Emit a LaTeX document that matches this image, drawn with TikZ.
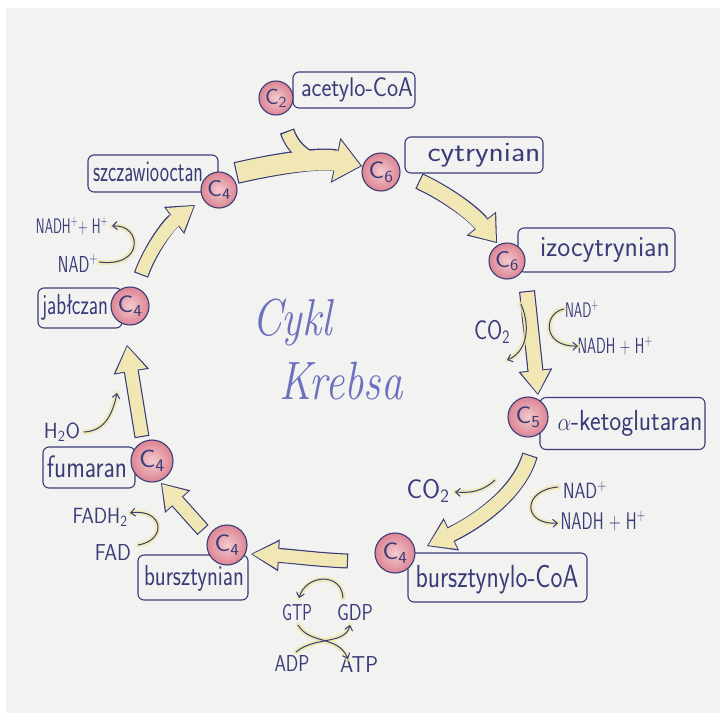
\documentclass[tikz,border=0pt]{standalone}
\usetikzlibrary{arrows.meta}
\definecolor{ink}{HTML}{3A3C78}
\definecolor{ylw}{HTML}{F0E7B4}
\definecolor{paper}{HTML}{F2F2F1}
\definecolor{pinkin}{HTML}{F4CACE}
\definecolor{pinkout}{HTML}{DC8593}
\definecolor{blueink}{HTML}{6C70BE}
\definecolor{hl}{HTML}{EFE8A6}
% #1 font size, #2 target width, #3 text: natural height kept, width squeezed/stretched
\newcommand\lab[3]{\resizebox{#2}{\height}{\fontsize{#1}{#1}\selectfont #3}}
\newcommand\bout[4]{%
  \draw[line width=#1pt, draw=ink, -{Triangle[length=#2pt,width=#3pt,line width=0pt]}] #4;}
\newcommand\bin[4]{%
  \pgfmathsetmacro\bInner{#1-2.6}%
  \pgfmathsetmacro\bLi{#2-2.6}%
  \pgfmathsetmacro\bWi{#3-4.5}%
  \pgfmathsetmacro\bSh{0.6*#2}%
  \draw[line width=\bInner pt, draw=ylw, shorten <=1.3pt, shorten >=\bSh pt] #4;
  \draw[line width=\bInner pt, draw=ylw, shorten <=1.3pt, shorten >=1.6pt, -{Triangle[length=\bLi pt,width=\bWi pt,line width=0pt]}] #4;}
\newcommand\barrow[4]{\bout{#1}{#2}{#3}{#4}\bin{#1}{#2}{#3}{#4}}
\tikzset{
  boxn/.style={draw=ink, line width=1.1pt, rounded corners=6pt, fill=paper, inner sep=0pt},
  cnode/.style={circle, draw=ink, line width=1.1pt, inner sep=0pt, shading=radial, inner color=pinkin, outer color=pinkout, text=ink, font=\sffamily},
  lbl/.style={text=ink, inner sep=0pt, font=\sffamily},
  title/.style={text=blueink, inner sep=0pt, font=\rmfamily\itshape},
  thinarr/.style={draw=ink, line width=1pt, -{Straight Barb[length=4.5pt,width=8pt]}},
  glow/.style={draw=hl, line width=5pt, line cap=round, opacity=0.8},
}
\begin{document}
\begin{tikzpicture}[x=1pt,y=-1pt]
\useasboundingbox (0,0) rectangle (720,713);
\fill[white] (0,0) rectangle (720,713);
\fill[paper] (6,8) rectangle (720,713);

% boxes
\node[boxn, minimum width=122pt, minimum height=36pt] (b-ac) at (354,90) {};
\node[boxn, minimum width=138pt, minimum height=36pt] (b-cit) at (474,155) {};
\node[boxn, minimum width=157pt, minimum height=44pt] (b-iso) at (596.5,250) {};
\node[boxn, minimum width=165pt, minimum height=52pt] (b-akg) at (622.5,423.5) {};
\node[boxn, minimum width=179pt, minimum height=49pt] (b-sca) at (497.5,577.5) {};
\node[boxn, minimum width=110pt, minimum height=45pt] (b-suc) at (193,577.5) {};
\node[boxn, minimum width=92pt, minimum height=41pt] (b-fum) at (89,467.5) {};
\node[boxn, minimum width=84pt, minimum height=40pt] (b-mal) at (80,308) {};
\node[boxn, minimum width=130pt, minimum height=37pt] (b-oaa) at (153,173.5) {};

% box labels
\node[lbl] (t-ac) at (357,90) {\lab{27}{112pt}{acetylo-CoA}};
\node[lbl] (t-cit) at (484,155) {\lab{28}{113pt}{cytrynian}};
\node[lbl] (t-iso) at (605,250) {\lab{29}{130pt}{izocytrynian}};
\node[lbl] (t-akg) at (630,423) {\lab{29}{145pt}{$\alpha$-ketoglutaran}};
\node[lbl] (t-sca) at (497,580) {\lab{32}{163pt}{bursztynylo-CoA}};
\node[lbl] (t-suc) at (194,578) {\lab{29}{100pt}{bursztynian}};
\node[lbl] (t-fum) at (87,467) {\lab{31}{80pt}{fumaran}};
\node[lbl] (t-mal) at (75,307) {\lab{29}{66pt}{jabłczan}};
\node[lbl] (t-oaa) at (148,172) {\lab{30}{110pt}{szczawiooctan}};

% arrow end points
\coordinate (a0s) at (287,131); \coordinate (a0e) at (320,162);
\coordinate (a1s) at (236,173); \coordinate (a1e) at (362,166);
\coordinate (a2s) at (419,181); \coordinate (a2e) at (497,243);
\coordinate (a3s) at (527,291); \coordinate (a3e) at (538,395);
\coordinate (a4s) at (530,455); \coordinate (a4e) at (427,546);
\coordinate (a5s) at (348,561); \coordinate (a5e) at (251,554);
\coordinate (a6s) at (203,530); \coordinate (a6e) at (161,483);
\coordinate (a7s) at (142,437); \coordinate (a7e) at (127,345);
\coordinate (a8s) at (141,275); \coordinate (a8e) at (195,205);

% main arrow with acetyl-CoA tail
\draw[line width=15pt, draw=ink] (a0s) .. controls (292,146) and (303,157) .. (a0e);
\bout{22}{27}{46}{(a1s) .. controls (275,164) and (320,157) .. (a1e)}
\draw[line width=12.4pt, draw=ylw, shorten <=1.3pt] (a0s) .. controls (292,146) and (303,157) .. (a0e);
\bin{22}{27}{46}{(a1s) .. controls (275,164) and (320,157) .. (a1e)}

\barrow{17}{25}{38}{(a2s) .. controls (445,193) and (472,212) .. (a2e)}
\barrow{16}{25}{34}{(a3s) -- (a3e)}
\barrow{16}{27}{36}{(a4s) .. controls (518,495) and (475,523) .. (a4e)}
\barrow{15}{28}{32}{(a5s) .. controls (320,560) and (290,556) .. (a5e)}
\barrow{15}{25}{34}{(a6s) -- (a6e)}
\barrow{15}{27}{36}{(a7s) -- (a7e)}
\barrow{15}{26}{34}{(a8s) .. controls (150,250) and (168,225) .. (a8e)}

% carbon circles
\node[cnode, minimum size=34pt] (c-ac) at (276,98) {\lab{22}{22pt}{C\textsubscript{2}}};
\node[cnode, minimum size=38pt] (c-cit) at (381,172) {\lab{24}{25pt}{C\textsubscript{6}}};
\node[cnode, minimum size=36pt] (c-iso) at (507,261) {\lab{23}{24pt}{C\textsubscript{6}}};
\node[cnode, minimum size=40pt] (c-akg) at (528,417) {\lab{24}{25pt}{C\textsubscript{5}}};
\node[cnode, minimum size=40pt] (c-sca) at (395,553) {\lab{24}{25pt}{C\textsubscript{4}}};
\node[cnode, minimum size=40pt] (c-suc) at (227,545) {\lab{24}{25pt}{C\textsubscript{4}}};
\node[cnode, minimum size=42pt] (c-fum) at (152,461) {\lab{25}{26pt}{C\textsubscript{4}}};
\node[cnode, minimum size=38pt] (c-mal) at (130,306) {\lab{24}{25pt}{C\textsubscript{4}}};
\node[cnode, minimum size=36pt] (c-oaa) at (219,190) {\lab{23}{24pt}{C\textsubscript{4}}};

% title
\node[title] (cykl) at (292,322) {\lab{52}{80pt}{Cykl}};
\node[title] (krebsa) at (341,381) {\lab{54}{123pt}{Krebsa}};

% side labels
\node[lbl] (s-nadh1) at (72,226) {\lab{21}{72pt}{NADH\textsuperscript{+}+ H\textsuperscript{+}}};
\node[lbl] (s-nad1) at (78,263) {\lab{23}{40pt}{NAD\textsuperscript{+}}};
\node[lbl] (s-h2o) at (62,432) {\lab{22}{36pt}{H\textsubscript{2}O}};
\node[lbl] (s-fadh) at (100,517) {\lab{22}{55pt}{FADH\textsubscript{2}}};
\node[lbl] (s-fad) at (113,553) {\lab{23}{36pt}{FAD}};
\node[lbl] (s-co2a) at (492,332) {\lab{27}{36pt}{CO\textsubscript{2}}};
\node[lbl] (s-nad2) at (582,309) {\lab{21}{34pt}{NAD\textsuperscript{+}}};
\node[lbl] (s-nadh2) at (615,346) {\lab{22}{75pt}{NADH + H\textsuperscript{+}}};
\node[lbl] (s-co2b) at (428,491) {\lab{27}{43pt}{CO\textsubscript{2}}};
\node[lbl] (s-nad3) at (585,490) {\lab{22}{44pt}{NAD\textsuperscript{+}}};
\node[lbl] (s-nadh3) at (603,521) {\lab{24}{85pt}{NADH + H\textsuperscript{+}}};
\node[lbl] (s-gtp) at (297,613) {\lab{23}{30pt}{GTP}};
\node[lbl] (s-gdp) at (355,613) {\lab{23}{36pt}{GDP}};
\node[lbl] (s-adp) at (292,664) {\lab{23}{35pt}{ADP}};
\node[lbl] (s-atp) at (359,665) {\lab{23}{38pt}{ATP}};

% small arrow end points
\coordinate (n1s) at (99,262);  \coordinate (n1e) at (112,226);
\coordinate (w1s) at (84,432);  \coordinate (w1e) at (117,393);
\coordinate (f1s) at (138,545); \coordinate (f1e) at (130,513);
\coordinate (o1s) at (521,304); \coordinate (o1e) at (507,360);
\coordinate (n2s) at (564,309); \coordinate (n2e) at (578,346);
\coordinate (o2s) at (495,480); \coordinate (o2e) at (455,492);
\coordinate (n3s) at (558,487); \coordinate (n3e) at (558,523);
\coordinate (g1s) at (343,598); \coordinate (g1e) at (299,598);
\coordinate (g2s) at (298,625); \coordinate (g2e) at (348,659);
\coordinate (g3s) at (296,652); \coordinate (g3e) at (350,625);

% yellow pencil traces
\draw[glow] (n1s) .. controls (145,268) and (142,224) .. (n1e);
\draw[glow] (w1s) .. controls (106,431) and (113,412) .. (w1e);
\draw[glow] (f1s) .. controls (168,540) and (163,508) .. (f1e);
\draw[glow] (o1s) .. controls (532,330) and (525,353) .. (o1e);
\draw[glow] (n2s) .. controls (543,313) and (542,347) .. (n2e);
\draw[glow] (o2s) .. controls (482,492) and (470,493) .. (o2e);
\draw[glow] (n3s) .. controls (522,490) and (522,525) .. (n3e);
\draw[glow] (g1s) .. controls (342,572) and (306,574) .. (g1e);
\draw[glow] (g2s) .. controls (310,645) and (338,635) .. (g2e);
\draw[glow] (g3s) .. controls (315,636) and (345,645) .. (g3e);

% small arrows
\draw[thinarr] (n1s) .. controls (145,268) and (142,224) .. (n1e);
\draw[thinarr] (w1s) .. controls (106,431) and (113,412) .. (w1e);
\draw[thinarr] (f1s) .. controls (168,540) and (163,508) .. (f1e);
\draw[thinarr] (o1s) .. controls (532,330) and (525,353) .. (o1e);
\draw[thinarr] (n2s) .. controls (543,313) and (542,347) .. (n2e);
\draw[thinarr] (o2s) .. controls (482,492) and (470,493) .. (o2e);
\draw[thinarr] (n3s) .. controls (522,490) and (522,525) .. (n3e);
\draw[thinarr] (g1s) .. controls (342,572) and (306,574) .. (g1e);
\draw[thinarr] (g2s) .. controls (310,645) and (338,635) .. (g2e);
\draw[thinarr] (g3s) .. controls (315,636) and (345,645) .. (g3e);
\end{tikzpicture}
\end{document}
